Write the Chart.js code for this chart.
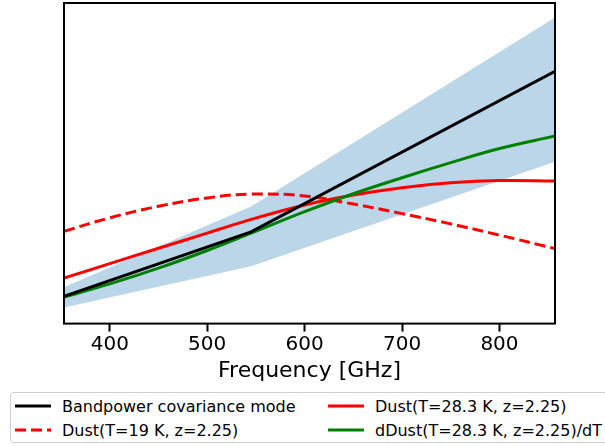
<!DOCTYPE html>
<html>
<head>
<meta charset="utf-8">
<script src="https://cdn.jsdelivr.net/npm/chart.js@4/dist/chart.umd.min.js"></script>
<style>
  html, body { margin: 0; padding: 0; background: #fff; }
  #wrap { position: relative; width: 605px; height: 446px; overflow: hidden; font-family: "DejaVu Sans", sans-serif; }
  #c { position: absolute; left: 0; top: 0; }
  #legend { position: absolute; left: 10px; top: 392px; width: 600px; height: 51px; border: 1px solid #d0d0d0; border-radius: 4px; background: #fff; box-sizing: border-box; }
  .item { position: absolute; height: 20px; display: flex; align-items: center; font-size: 16px; color: #000; white-space: nowrap; }
  .item svg { margin-right: 11px; }
</style>
</head>
<body>
<div id="wrap">
  <canvas id="c" width="605" height="446"></canvas>
  <div id="legend"></div>
</div>
<script>
// Frequencies (GHz) of the sampled curves
const freqs = [353, 400, 450, 500, 545, 600, 650, 700, 750, 800, 857];
// Dust(T=19 K, z=2.25)
const dust19 = [28.8, 33.0, 36.6, 39.2, 40.4, 39.8, 37.3, 34.3, 31.1, 27.6, 23.4];
// Dust(T=28.3 K, z=2.25)
const dust283 = [14.2, 18.7, 23.5, 28.2, 32.5, 37.0, 40.1, 42.4, 43.9, 44.6, 44.5];
// dDust(T=28.3 K, z=2.25)/dT
const dDust = [8.3, 12.4, 17.3, 22.8, 28.2, 34.9, 40.5, 45.5, 50.2, 54.6, 58.5];
// Band frequencies (Planck channels) for the covariance mode and its band
const bandFreqs = [353, 545, 857];
const mode = [8.5, 28.6, 78.7];
const bandHi = [11.3, 36.5, 95.5];
const bandLo = [5.0, 17.9, 50.5];
// x tick labels
const xTicks = [400, 500, 600, 700, 800];

const labels = {
  mode: "Bandpower covariance mode",
  d19: "Dust(T=19 K, z=2.25)",
  d283: "Dust(T=28.3 K, z=2.25)",
  dd: "dDust(T=28.3 K, z=2.25)/dT"
};

const pts = (xs, ys) => xs.map((x, i) => ({ x: x, y: ys[i] }));

const frame = {
  id: 'frame',
  afterDraw(chart) {
    const { ctx, chartArea: a } = chart;
    ctx.save();
    ctx.strokeStyle = '#000';
    ctx.lineWidth = 2;
    ctx.strokeRect(a.left, a.top, a.right - a.left, a.bottom - a.top);
    ctx.restore();
  }
};

new Chart(document.getElementById('c'), {
  type: 'line',
  data: {
    datasets: [
      { label: labels.mode, data: pts(bandFreqs, mode), borderColor: '#000', borderWidth: 3, tension: 0, pointRadius: 0, fill: false },
      { label: labels.dd, data: pts(freqs, dDust), borderColor: '#008000', borderWidth: 3, tension: 0.4, pointRadius: 0, fill: false },
      { label: labels.d283, data: pts(freqs, dust283), borderColor: '#ff0000', borderWidth: 3, tension: 0.4, pointRadius: 0, fill: false },
      { label: labels.d19, data: pts(freqs, dust19), borderColor: '#ff0000', borderWidth: 3, borderDash: [11, 5], tension: 0.4, pointRadius: 0, fill: false },
      { label: 'band upper', data: pts(bandFreqs, bandHi), borderWidth: 0, borderColor: 'rgba(0,0,0,0)', backgroundColor: 'rgba(31,119,180,0.3)', tension: 0, pointRadius: 0, fill: '+1' },
      { label: 'band lower', data: pts(bandFreqs, bandLo), borderWidth: 0, borderColor: 'rgba(0,0,0,0)', tension: 0, pointRadius: 0, fill: false }
    ]
  },
  options: {
    responsive: false,
    animation: false,
    layout: { padding: { left: 64, right: 50, top: 3, bottom: 62 } },
    plugins: { legend: { display: false }, tooltip: { enabled: false } },
    scales: {
      x: {
        type: 'linear',
        min: 353,
        max: 857,
        afterBuildTicks(axis) { axis.ticks = xTicks.map(v => ({ value: v })); },
        grid: { drawOnChartArea: false, drawTicks: true, tickLength: 8, tickColor: '#000', tickWidth: 2 },
        border: { display: false },
        ticks: { color: '#000', padding: 1, font: { family: 'DejaVu Sans', size: 20 }, maxRotation: 0 },
        title: { display: true, text: 'Frequency [GHz]', color: '#000', font: { family: 'DejaVu Sans', size: 22 }, padding: { top: 0, bottom: 0 } }
      },
      y: { type: 'linear', min: 0, max: 100, display: false }
    }
  },
  plugins: [frame]
});

// HTML legend (real text)
const legendItems = [
  { text: labels.mode, color: '#000', dash: '', left: 4, top: 3 },
  { text: labels.d19, color: '#ff0000', dash: '11 5', left: 4, top: 27 },
  { text: labels.d283, color: '#ff0000', dash: '', left: 317, top: 3 },
  { text: labels.dd, color: '#008000', dash: '', left: 317, top: 27 }
];
const lg = document.getElementById('legend');
legendItems.forEach(it => {
  const d = document.createElement('div');
  d.className = 'item';
  d.style.left = it.left + 'px';
  d.style.top = it.top + 'px';
  d.innerHTML = '<svg width="36" height="6"><line x1="0" y1="3" x2="36" y2="3" stroke="' + it.color + '" stroke-width="3"' + (it.dash ? ' stroke-dasharray="' + it.dash + '"' : '') + '/></svg>';
  const s = document.createElement('span');
  s.textContent = it.text;
  d.appendChild(s);
  lg.appendChild(d);
});
</script>
</body>
</html>
